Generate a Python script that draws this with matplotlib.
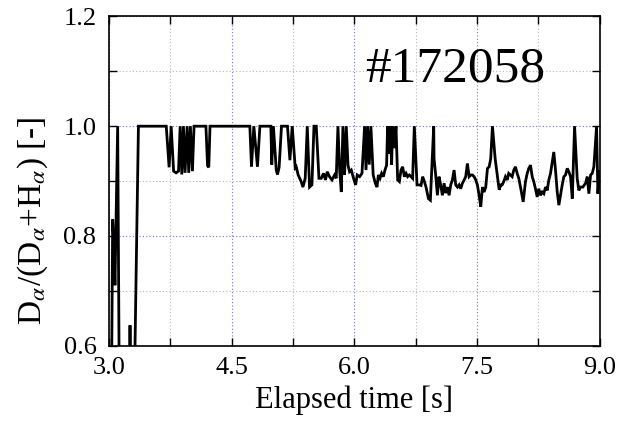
import matplotlib
matplotlib.use("Agg")
import matplotlib.pyplot as plt
from matplotlib.ticker import MultipleLocator

# D_alpha / (D_alpha + H_alpha) ratio vs elapsed time, shot #172058
# (values below 0.6 are dropouts and fall off the bottom of the axes)
time_s = [
    3.000, 3.020, 3.045, 3.055, 3.073, 3.106, 3.135, 3.245, 3.257, 3.270,
    3.315, 3.360, 3.700, 3.735, 3.760, 3.790, 3.820, 3.850, 3.870, 3.890,
    3.910, 3.930, 3.955, 3.975, 3.995, 4.020, 4.040, 4.185, 4.205, 4.220,
    4.235, 4.722, 4.742, 4.771, 4.815, 4.845, 4.979, 4.990, 5.010, 5.045,
    5.060, 5.080, 5.109, 5.182, 5.212, 5.240, 5.277, 5.289, 5.313, 5.350,
    5.371, 5.399, 5.424, 5.452, 5.481, 5.506, 5.534, 5.567, 5.595, 5.623,
    5.647, 5.668, 5.696, 5.726, 5.758, 5.778, 5.799, 5.820, 5.840, 5.860,
    5.880, 5.901, 5.922, 5.941, 5.962, 5.990, 6.015, 6.035, 6.064, 6.093,
    6.125, 6.142, 6.162, 6.182, 6.202, 6.230, 6.256, 6.277, 6.293, 6.313,
    6.333, 6.354, 6.374, 6.394, 6.406, 6.427, 6.439, 6.455, 6.468, 6.488,
    6.509, 6.529, 6.550, 6.570, 6.590, 6.611, 6.632, 6.651, 6.672, 6.693,
    6.712, 6.733, 6.766, 6.794, 6.815, 6.835, 6.856, 6.876, 6.905, 6.929,
    6.970, 6.974, 6.994, 7.015, 7.035, 7.055, 7.076, 7.097, 7.116, 7.137,
    7.158, 7.178, 7.198, 7.219, 7.239, 7.260, 7.280, 7.300, 7.321, 7.342,
    7.361, 7.382, 7.403, 7.422, 7.443, 7.464, 7.484, 7.504, 7.525, 7.545,
    7.566, 7.586, 7.606, 7.627, 7.648, 7.667, 7.688, 7.721, 7.749, 7.770,
    7.790, 7.807, 7.826, 7.847, 7.868, 7.887, 7.908, 7.929, 7.949, 7.969,
    7.990, 8.010, 8.031, 8.064, 8.092, 8.113, 8.132, 8.153, 8.174, 8.193,
    8.214, 8.235, 8.255, 8.275, 8.296, 8.316, 8.337, 8.358, 8.377, 8.398,
    8.419, 8.438, 8.459, 8.480, 8.500, 8.520, 8.541, 8.561, 8.581, 8.602,
    8.622, 8.643, 8.664, 8.692, 8.724, 8.744, 8.765, 8.793, 8.826, 8.847,
    8.867, 8.888, 8.908, 8.928, 8.961, 8.977, 8.998, 9.010,
]
ratio = [
    0.300, 0.300, 0.830, 0.800, 0.710, 1.000, 0.300, 0.300, 0.637, 0.300,
    0.570, 1.000, 1.000, 0.925, 1.000, 0.918, 0.915, 0.918, 1.000, 0.912,
    1.000, 0.915, 1.000, 0.915, 1.000, 0.918, 1.000, 1.000, 0.928, 0.925,
    1.000, 1.000, 0.926, 1.000, 0.926, 1.000, 1.000, 0.930, 1.000, 0.920,
    0.912, 0.925, 1.000, 1.000, 0.938, 1.000, 0.924, 0.926, 0.911, 0.899,
    0.889, 0.905, 1.000, 0.889, 0.893, 1.000, 1.000, 0.905, 0.905, 0.914,
    0.902, 0.917, 0.908, 0.902, 0.911, 0.905, 1.000, 0.920, 0.880, 1.000,
    0.911, 1.000, 0.929, 0.917, 0.920, 0.905, 0.893, 0.911, 0.908, 0.914,
    1.000, 0.920, 1.000, 0.930, 1.000, 0.911, 0.896, 0.889, 0.911, 0.905,
    0.914, 0.908, 0.920, 0.929, 1.000, 0.950, 1.000, 0.930, 1.000, 0.960,
    1.000, 0.902, 0.899, 0.920, 0.926, 0.908, 0.914, 0.908, 0.911, 0.908,
    0.905, 1.000, 0.893, 0.893, 0.892, 0.908, 0.899, 0.889, 0.868, 0.865,
    1.000, 0.941, 0.911, 0.874, 0.908, 0.893, 0.874, 0.896, 0.878, 0.889,
    0.874, 0.893, 0.902, 0.920, 0.893, 0.889, 0.893, 0.886, 0.896, 0.902,
    0.908, 0.932, 0.908, 0.911, 0.911, 0.908, 0.902, 0.893, 0.874, 0.853,
    0.889, 0.880, 0.889, 0.923, 0.926, 0.941, 1.000, 0.941, 0.908, 0.884,
    0.893, 0.893, 0.899, 0.908, 0.902, 0.914, 0.911, 0.908, 0.920, 0.926,
    0.914, 0.905, 0.889, 0.862, 0.899, 0.914, 0.923, 0.929, 0.908, 0.899,
    0.886, 0.871, 0.886, 0.874, 0.880, 0.877, 0.889, 0.883, 0.902, 0.914,
    0.935, 0.953, 0.920, 0.880, 0.856, 0.874, 0.893, 0.908, 0.911, 0.923,
    0.917, 0.908, 0.868, 1.000, 0.905, 0.883, 0.889, 0.889, 0.896, 0.908,
    0.877, 0.911, 0.914, 0.926, 1.000, 0.877, 0.920, 0.908,
]
shot_label = "#172058"

plt.rcParams["font.family"] = ["Liberation Serif", "DejaVu Serif"]
plt.rcParams["mathtext.fontset"] = "stix"

fig = plt.figure(figsize=(6.3, 4.23), dpi=100)
ax = fig.add_axes([0.173, 0.183, 0.779, 0.778])

ax.plot(time_s, ratio, color="black", linewidth=2.0, solid_joinstyle="miter")

ax.set_xlim(3.0, 9.0)
ax.set_ylim(0.6, 1.2)
ax.xaxis.set_major_locator(MultipleLocator(1.5))
ax.xaxis.set_minor_locator(MultipleLocator(0.75))
ax.yaxis.set_major_locator(MultipleLocator(0.2))
ax.yaxis.set_minor_locator(MultipleLocator(0.1))
ax.xaxis.set_major_formatter(lambda v, p: f"{v:.1f}")
ax.yaxis.set_major_formatter(lambda v, p: f"{v:.1f}")

ax.grid(which="major", color="#7070e0", linestyle=(0, (1, 2)), linewidth=0.8)
ax.grid(which="minor", color="#b8b8b8", linestyle=(0, (1, 2)), linewidth=0.8)
ax.set_axisbelow(True)

ax.tick_params(which="both", direction="in", top=True, right=True,
               length=6, width=1.0, labelsize=19)
ax.tick_params(axis="x", pad=8)
ax.tick_params(axis="y", pad=9)
for s in ax.spines.values():
    s.set_linewidth(1.2)

ax.set_xlabel("Elapsed time [s]", fontsize=22, labelpad=5)
ax.set_ylabel(r"D$_\alpha$/(D$_\alpha$+H$_\alpha$) [-]", fontsize=24)
ax.yaxis.set_label_coords(-0.12, 0.38)

ax.text(0.705, 0.84, shot_label, transform=ax.transAxes, fontsize=37,
        ha="center", va="center")

fig.savefig("out.png", dpi=100)
